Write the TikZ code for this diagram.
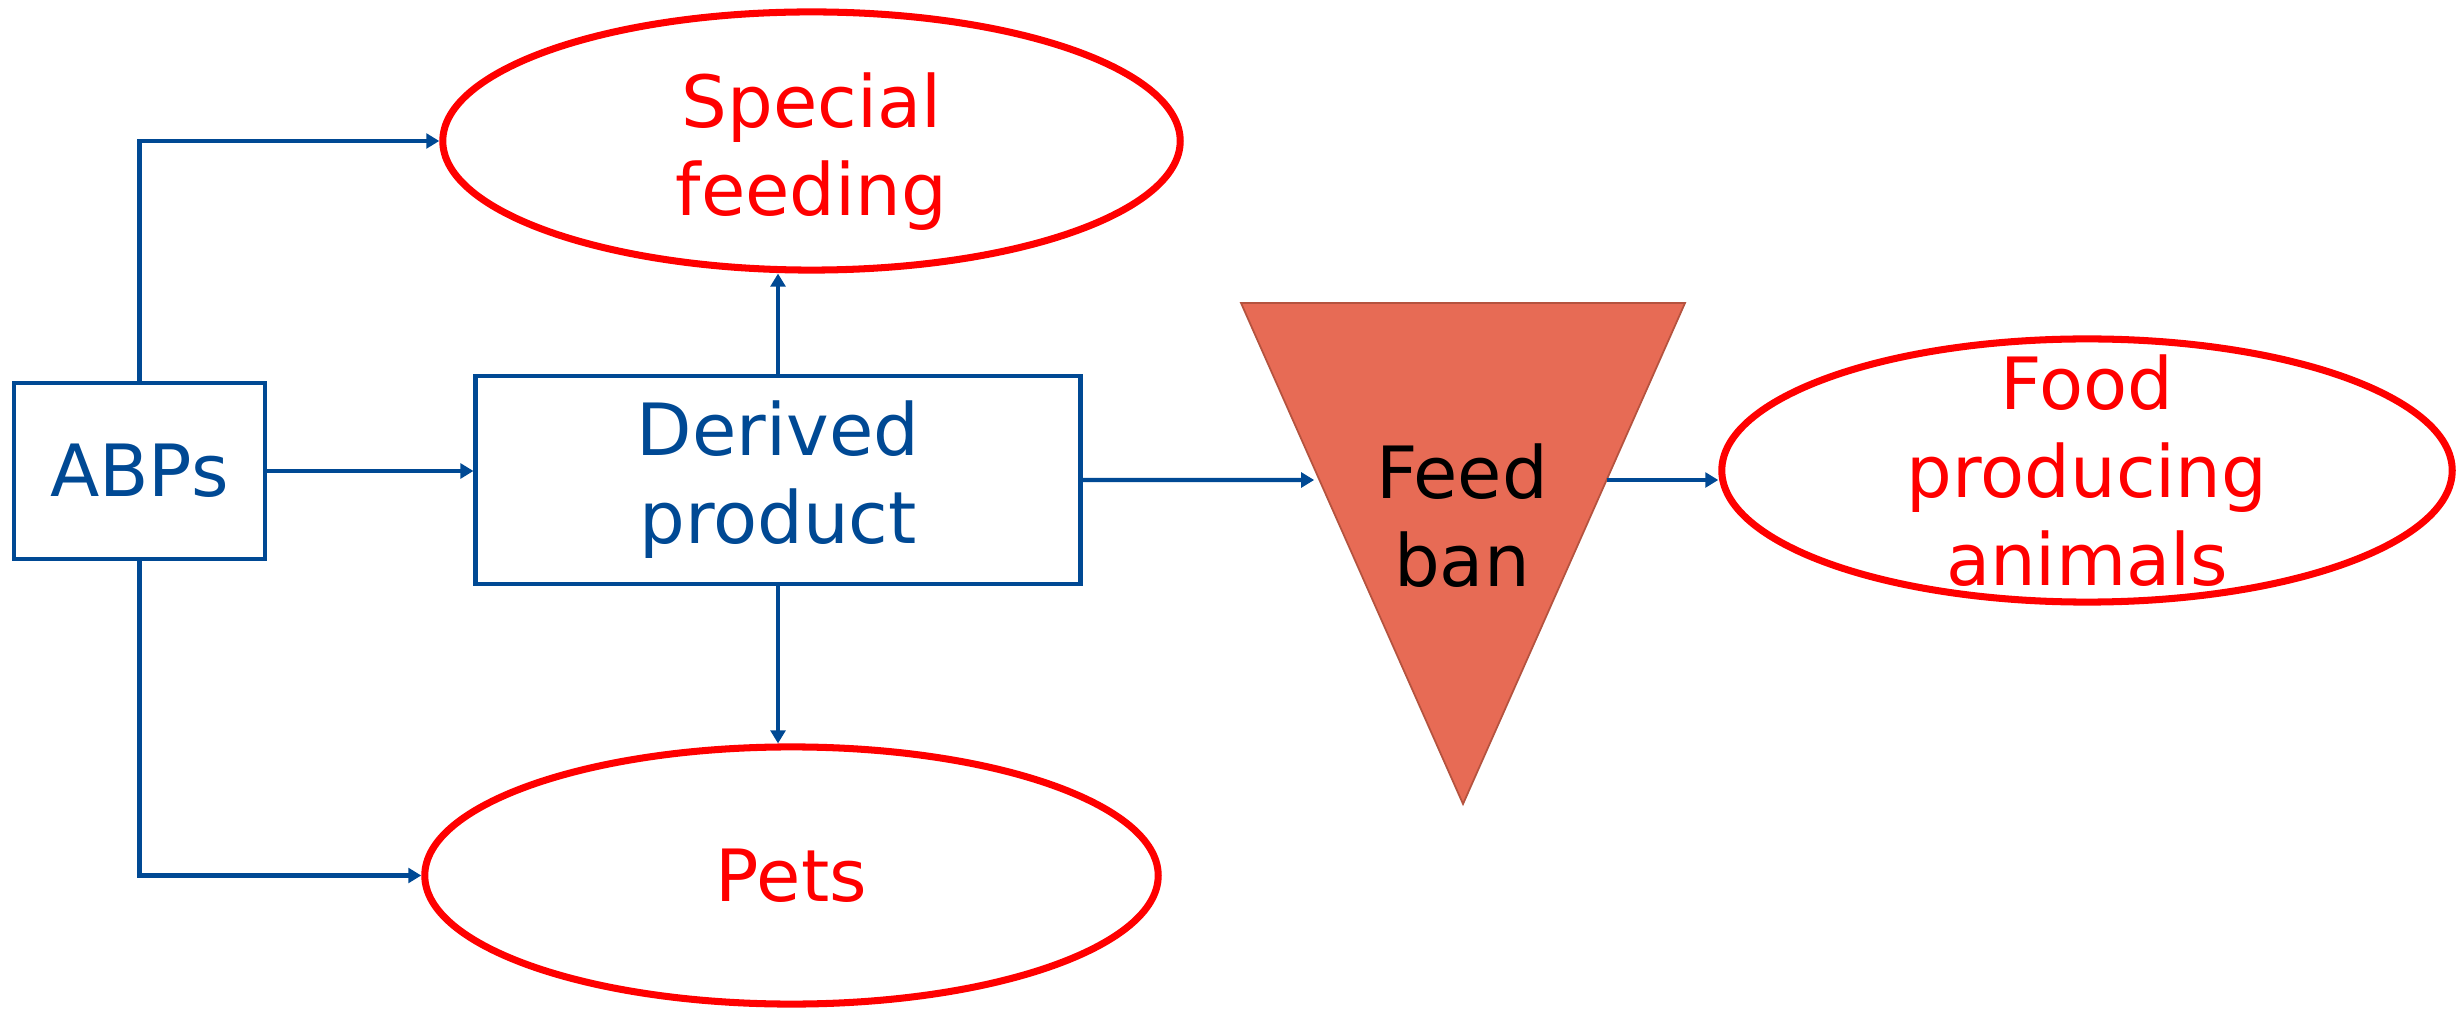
\documentclass[tikz,border=0pt]{standalone}
\usepackage{fontspec}
\setmainfont{DejaVu Sans}
\usetikzlibrary{arrows.meta,shapes.geometric,calc}

\definecolor{abpblue}{RGB}{0,73,148}
\definecolor{banred}{RGB}{231,107,85}
\definecolor{banedge}{RGB}{181,83,63}

\begin{document}
\begin{tikzpicture}[x=0.01cm,y=-0.01cm,
		bluebox/.style={draw=abpblue,line width=1.2pt,text=abpblue,align=center},
		redoval/.style={ellipse,draw=red,line width=2pt},
		redtext/.style={text=red,align=center},
		flow/.style={-{Triangle[length=3.7pt,width=4.2pt]},draw=abpblue,line width=1.2pt}]
		\fontsize{20.5}{25}\selectfont
		\useasboundingbox (0,0) rectangle (2458,1010);
		% boxes and ovals
		\node[bluebox,minimum width=2.51cm,minimum height=1.765cm] (abps) at (139.5,471) {ABPs};
		\node[bluebox,minimum width=6.045cm,minimum height=2.085cm] (derived) at (778,480) {Derived\\product};
		\node[redoval,minimum width=7.37cm,minimum height=2.58cm] (special) at (811.5,141) {};
		\node[redtext,yshift=-3pt] (specialtxt) at (special.center) {Special\\feeding};
		\node[redoval,minimum width=7.33cm,minimum height=2.57cm] (pets) at (791.5,875.5) {};
		\node[redtext] (petstxt) at (pets.center) {Pets};
		\node[redoval,minimum width=7.30cm,minimum height=2.63cm] (food) at (2087,470.5) {};
		\node[redtext] (foodtxt) at (food.center) {Food\\producing\\animals};
		% feed ban
		\coordinate (bantl) at (1241,303);
		\coordinate (bantr) at (1685,303);
		\coordinate (banapex) at (1463,804);
		\filldraw[fill=banred,draw=banedge,line width=0.5pt] (bantl) -- (bantr) -- (banapex) -- cycle;
		\node[align=center] (ban) at (1462,516) {Feed\\ban};
		\coordinate (banin) at ($(bantl)!0.3533!(banapex)$);
		\coordinate (banout) at ($(bantr)!0.3533!(banapex)$);
		% arrows
		\draw[flow] (abps.north) |- (special.west);
		\draw[flow] (abps.south) |- (pets.west);
		\draw[flow] (abps.east) -- (abps.east -| derived.west);
		\draw[flow] (derived.north) -- (derived.north |- special.south);
		\draw[flow] (derived.south) -- (derived.south |- pets.north);
		\draw[flow,shorten >=1.5pt] (derived.east) -- (banin);
		\draw[flow] (banout) -- (banout -| food.west);
\end{tikzpicture}
\end{document}
